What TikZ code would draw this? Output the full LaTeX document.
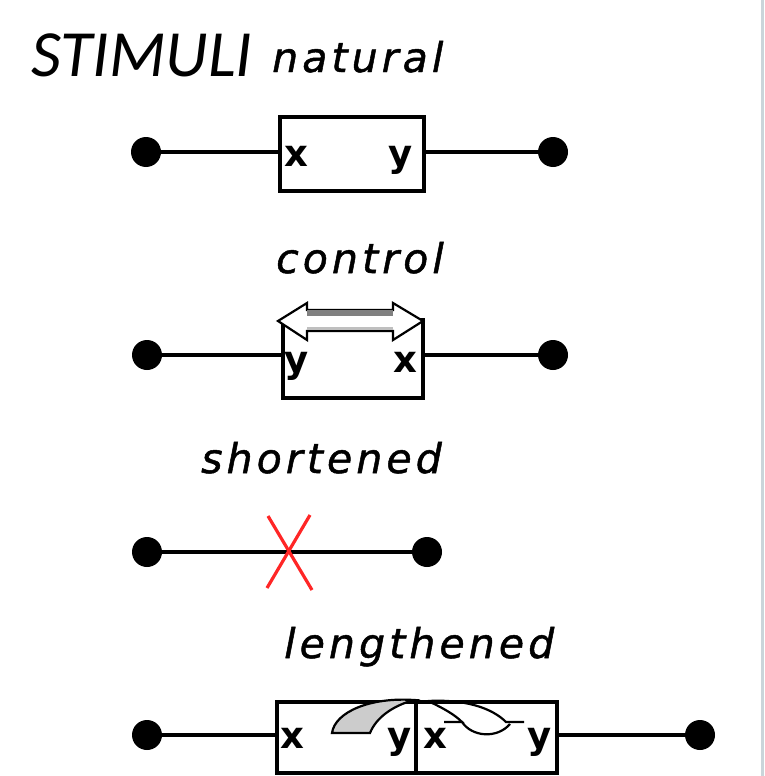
\documentclass[tikz,border=0pt]{standalone}
\usepackage{fontspec}
\usetikzlibrary{positioning}
\newfontfamily\stimfont{Carlito}
\newfontfamily\casefont[LetterSpace=10,FakeBold=1.2]{DejaVu Sans}
\newfontfamily\varfont{DejaVu Sans}

\begin{document}
\begin{tikzpicture}[x=1pt,y=-1pt]
		\tikzset{
			basefont/.style = {inner sep = 0pt, anchor = base west},
			title/.style = {basefont, font = \stimfont\itshape\fontsize{66}{66}\selectfont},
			casename/.style = {basefont, font = \casefont\itshape\fontsize{41}{41}\selectfont},
			var/.style = {basefont, font = \varfont\bfseries\fontsize{37}{37}\selectfont},
			wire/.style = {line width = 3.4pt},
			terminal/.style = {circle, fill = black, inner sep = 0pt, minimum size = 30pt},
			block/.style = {draw, line width = 3.4pt, inner sep = 0pt},
			cut/.style = {draw = red!85!white, line width = 3.2pt},
		};
		\useasboundingbox (0,0) rectangle (764,776);
		\fill[cyan!20!gray!40] (761,0) rectangle (764,776);

		% heading
		\node[title] (stimuli) at (31,76) {STIMULI};
		\node[casename] (natural) at (272,72) {natural};

		% natural
		\node[terminal] (nat-in) at (146,152) {};
		\node[terminal] (nat-out) at (553,152) {};
		\node[block, minimum width = 144pt, minimum height = 74pt] (nat-box) at (352,154) {};
		\node[var] (nat-x) at (284,166) {x};
		\node[var] (nat-y) at (388,166) {y};
		\draw[wire] (nat-in) -- (nat-in -| nat-box.west);
		\draw[wire] (nat-box.east |- nat-out) -- (nat-out);

		% control
		\node[casename] (control) at (276,273) {control};
		\node[terminal] (con-in) at (147,355) {};
		\node[terminal] (con-out) at (553,355) {};
		\node[block, minimum width = 140pt, minimum height = 78pt] (con-box) at (353,359) {};
		\node[var] (con-y) at (284,372) {y};
		\node[var] (con-x) at (393,372) {x};
		\draw[wire] (con-in) -- (con-in -| con-box.west);
		\draw[wire] (con-box.east |- con-out) -- (con-out);
		\draw[line width = 2.2pt, fill = white] (278,321) -- (307,303) -- (307,310) -- (393,310) -- (393,303)
			-- (423,321) -- (393,340) -- (393,331) -- (307,331) -- (307,340) -- cycle;
		\fill[gray] (307,310) rectangle (393,316);
		\fill[gray!50] (307,327) rectangle (393,330);

		% shortened
		\node[casename] (shortened) at (201,473) {shortened};
		\node[terminal] (sho-in) at (147,552) {};
		\node[terminal] (sho-out) at (427,552) {};
		\draw[wire] (sho-in) -- (sho-out);
		\draw[cut] (268,516) -- (312,590);
		\draw[cut] (310,515) -- (267,588);

		% lengthened
		\node[casename] (lengthened) at (284,658) {lengthened};
		\node[terminal] (len-in) at (147,735) {};
		\node[terminal] (len-out) at (700,735) {};
		\node[block, minimum width = 139pt, minimum height = 71pt] (len-box1) at (346.5,737.5) {};
		\node[block, minimum width = 141pt, minimum height = 71pt] (len-box2) at (486.5,737.5) {};
		\node[var] (len-x1) at (280,748) {x};
		\node[var] (len-y1) at (387,748) {y};
		\node[var] (len-x2) at (423,748) {x};
		\node[var] (len-y2) at (527,748) {y};
		\draw[wire] (len-in) -- (len-in -| len-box1.west);
		\draw[wire] (len-box2.east |- len-out) -- (len-out);
		\filldraw[fill = gray!40, line width = 2.2pt] (332,733) .. controls (335,712) and (370,697) .. (414,700)
			.. controls (392,706) and (376,718) .. (370,733) -- cycle;
		\draw[line width = 2.2pt] (428,701) .. controls (465,699) and (492,708) .. (506,722) -- (524,722);
		\draw[line width = 2.2pt] (428,701) .. controls (445,709) and (455,715) .. (462,722) -- (444,722);
		\draw[line width = 2.2pt] (462,722) .. controls (472,737) and (497,739) .. (510,724);
	\end{tikzpicture}
\end{document}
